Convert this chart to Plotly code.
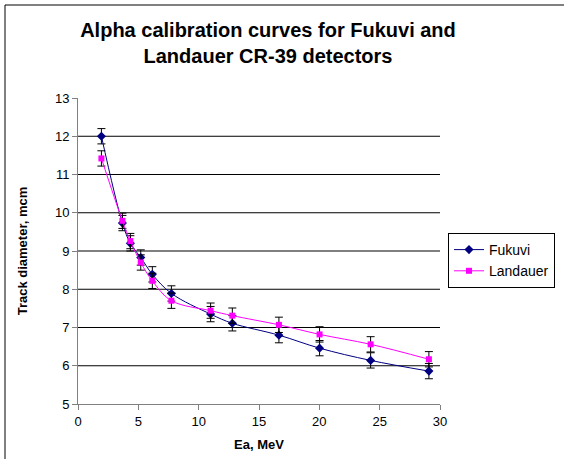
import plotly.graph_objects as go

# ---- data ----
energy = [1.94, 3.68, 4.34, 5.2, 6.16, 7.74, 10.99, 12.79, 16.65, 20.02, 24.25, 29.08]
fukuvi = [12.0, 9.73, 9.2, 8.83, 8.39, 7.89, 7.35, 7.11, 6.80, 6.46, 6.14, 5.86]
landauer = [11.42, 9.79, 9.26, 8.7, 8.22, 7.70, 7.44, 7.31, 7.07, 6.82, 6.56, 6.17]
fukuvi_err = [0.2] * 12
landauer_err = [0.2] * 12
grid_values = [6, 7, 8, 9, 10, 11, 12]
x_ticks = [0, 5, 10, 15, 20, 25, 30]
y_ticks = [5, 6, 7, 8, 9, 10, 11, 12, 13]

FONT = "Liberation Sans, Arial, sans-serif"

fig = go.Figure()
fig.add_trace(go.Scatter(
    x=energy, y=fukuvi, name="Fukuvi", mode="lines+markers",
    line=dict(color="#000080", width=1, shape="spline", smoothing=1.0),
    marker=dict(symbol="diamond", size=7, color="#000080"),
    error_y=dict(type="data", array=fukuvi_err, color="black", thickness=1, width=4),
))
fig.add_trace(go.Scatter(
    x=energy, y=landauer, name="Landauer", mode="lines+markers",
    line=dict(color="#FF00FF", width=1, shape="spline", smoothing=1.0),
    marker=dict(symbol="square", size=6, color="#FF00FF"),
    error_y=dict(type="data", array=landauer_err, color="black", thickness=1, width=4),
))

L, R, T, B = 78, 124, 98, 55
W, H = 564, 459
pw, ph = W - L - R, H - T - B

shapes = []
for g in grid_values:
    shapes.append(dict(type="line", xref="paper", x0=0, x1=1, yref="y", y0=g, y1=g,
                       line=dict(color="black", width=1), layer="below"))
# outer chart border
shapes.append(dict(type="rect", xref="paper", yref="paper",
                   x0=(5 - L) / pw, x1=(W + 10 - L) / pw,
                   y0=(H - B - (H + 10)) / ph, y1=(H - B - 5) / ph,
                   line=dict(color="black", width=1)))

fig.update_layout(
    width=W, height=H,
    margin=dict(l=L, r=R, t=T, b=B, autoexpand=False),
    paper_bgcolor="white", plot_bgcolor="white",
    font=dict(family=FONT, color="black", size=13),
    title=dict(text="<b>Alpha calibration curves for Fukuvi and<br>Landauer CR-39 detectors</b>",
               x=268 / W, xanchor="center", y=1 - 37 / H, yanchor="middle",
               font=dict(family=FONT, size=20, color="black")),
    showlegend=True,
    legend=dict(x=(448 - L) / pw, xanchor="left", y=(H - B - 233) / ph, yanchor="top",
                bordercolor="black", borderwidth=1, bgcolor="white",
                font=dict(family=FONT, size=14), tracegroupgap=0, itemwidth=30),
    shapes=shapes,
    xaxis=dict(range=[0, 30], tickvals=x_ticks, showline=True, linecolor="#808080",
               ticks="outside", ticklen=5, tickcolor="#808080", showgrid=False, zeroline=False,
               tickfont=dict(size=13),
               title=dict(text="<b>Ea, MeV</b>", font=dict(size=13), standoff=12)),
    yaxis=dict(range=[5, 13], tickvals=y_ticks, showline=True, linecolor="#808080",
               ticks="outside", ticklen=5, tickcolor="#808080", showgrid=False, zeroline=False,
               tickfont=dict(size=13),
               title=dict(text="<b>Track diameter, mcm</b>", font=dict(size=13), standoff=24)),
)

fig.write_html("out.html")
